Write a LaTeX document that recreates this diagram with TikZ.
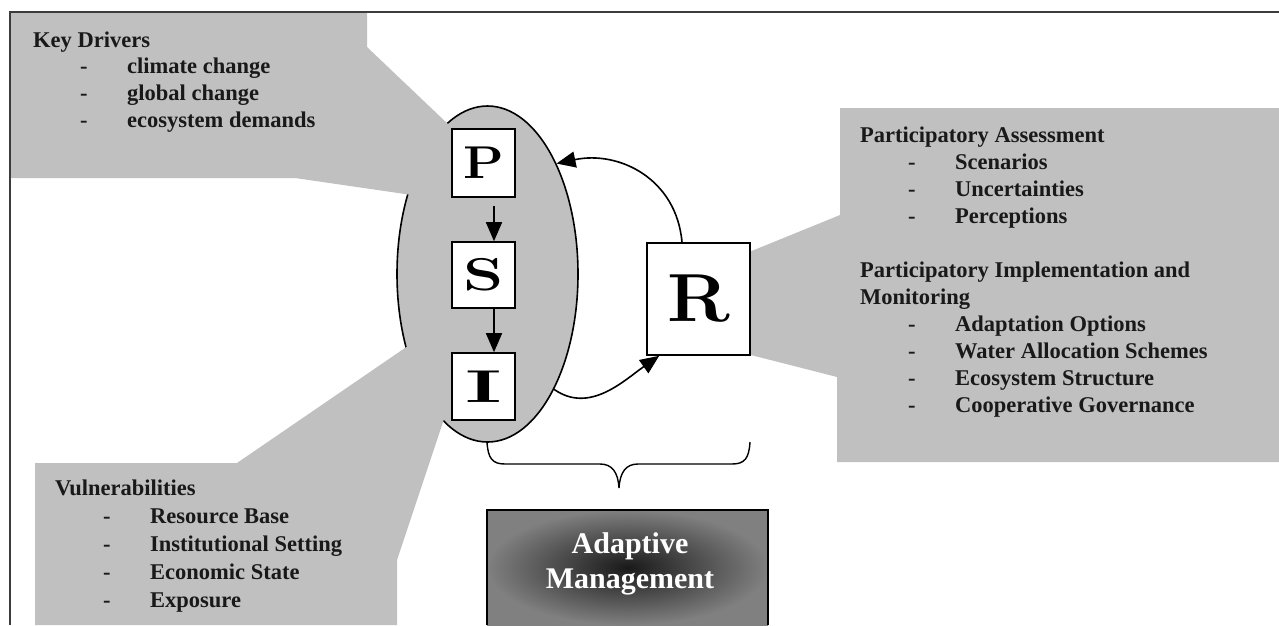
\documentclass[tikz,border=0pt]{standalone}
\usepackage{fontspec}
\newfontfamily\tnr{Liberation Serif}
\usetikzlibrary{shapes.geometric, arrows.meta, positioning}
\definecolor{callgray}{RGB}{192,192,192}
\definecolor{framegray}{RGB}{60,60,60}
\definecolor{amgray}{RGB}{128,128,128}
\definecolor{inkblack}{RGB}{25,25,25}
\newcommand{\itm}[1]{\makebox[47pt][l]{-}#1}
\newcommand{\wide}[2]{\scalebox{#1}[1]{#2}}

\begin{document}
\begin{tikzpicture}[x=1pt, y=1pt, >={Triangle[length=19pt,width=16pt]},
  callout/.style={fill=callgray, draw=none},
  letterbox/.style={draw, fill=white, line width=1.6pt, inner sep=0pt, font=\fontsize{46}{46}\selectfont\bfseries},
  flow/.style={line width=1.6pt, ->},
  calltext/.style={anchor=base west, inner sep=0pt, text=inkblack}]
  \useasboundingbox (0,0) rectangle (1279,-625);

  % PSI ellipse
  \node[ellipse, draw, fill=callgray, line width=1.6pt, minimum width=181pt, minimum height=336pt, inner sep=0pt] (psi) at (487.5,-274) {};

  % grey callouts
  \fill[callout] (10,-12) -- (367,-12) -- (367,-47) -- (470,-145) -- (460,-202) -- (295,-178) -- (10,-178) -- cycle;
  \fill[callout] (840,-108) -- (1279,-108) -- (1279,-462) -- (837,-462) -- (837,-377) -- (700,-342) -- (700,-272) -- (840,-215) -- cycle;
  \fill[callout] (35,-625) -- (35,-463) -- (237,-463) -- (440,-324) -- (450,-401) -- (397,-560) -- (397,-625) -- cycle;

  % P, S, I and R
  \node[letterbox, minimum width=63pt, minimum height=68pt] (P) at (483.5,-163) {\wide{1.15}{P}};
  \node[letterbox, minimum width=63pt, minimum height=66pt] (S) at (483.5,-275) {\wide{1.4}{S}};
  \node[letterbox, minimum width=63pt, minimum height=67pt] (I) at (483.5,-386.5) {\wide{1.9}{I}};
  \node[letterbox, minimum width=103pt, minimum height=112pt, font=\fontsize{68}{68}\selectfont\bfseries] (R) at (698.5,-299) {\wide{1.1}{R}};

  % arrows
  \draw[flow, shorten <=8pt] ([xshift=10.5pt]P.south) -- ([xshift=10.5pt]S.north);
  \draw[flow] ([xshift=10.5pt]S.south) -- ([xshift=10.5pt]I.north);
  \draw[flow] ([xshift=-16.5pt]R.north) to[out=95, in=12, looseness=1.1] (psi.58);
  \draw[flow] (psi.-60) to[out=-35, in=215] ([xshift=13pt]R.south west);

  % brace
  \draw[line width=1.4pt] (487,-442) .. controls (488,-458) and (492,-464) .. (505,-464) -- (600,-464)
    .. controls (612,-464) and (618,-472) .. (619,-488) .. controls (620,-472) and (626,-464) .. (638,-464)
    -- (732,-464) .. controls (745,-464) and (749,-458) .. (750,-442);

  % adaptive management box
  \shade[inner color=black!90, outer color=amgray] (487,-625) rectangle (768,-510);
  \draw[line width=1.8pt] (487,-625) -- (487,-510) -- (768,-510) -- (768,-625);
  \node[text=white, align=center, font=\tnr\bfseries\fontsize{30}{35}\selectfont] (amlabel) at (630,-564) {Adaptive\\Management};

  % callout texts
  \node[calltext, font=\tnr\bfseries\fontsize{22.5}{26.7}\selectfont] (drivers) at (33,-47)
    {\begin{tabular}[t]{@{\hspace{47pt}}l@{}}
      \multicolumn{1}{@{}l@{}}{Key Drivers}\\
      \itm{climate change}\\
      \itm{global change}\\
      \itm{ecosystem demands}
    \end{tabular}};
  \node[calltext, font=\tnr\bfseries\fontsize{22.5}{27}\selectfont] (assess) at (860,-142)
    {\begin{tabular}[t]{@{\hspace{48pt}}l@{}}
      \multicolumn{1}{@{}l@{}}{Participatory Assessment}\\
      \itm{Scenarios}\\
      \itm{Uncertainties}\\
      \itm{Perceptions}\\
      \\
      \multicolumn{1}{@{}l@{}}{Participatory Implementation and}\\
      \multicolumn{1}{@{}l@{}}{Monitoring}\\
      \itm{Adaptation Options}\\
      \itm{Water Allocation Schemes}\\
      \itm{Ecosystem Structure}\\
      \itm{Cooperative Governance}
    \end{tabular}};
  \node[calltext, font=\tnr\bfseries\fontsize{22.5}{28}\selectfont] (vulner) at (55,-495)
    {\begin{tabular}[t]{@{\hspace{48pt}}l@{}}
      \multicolumn{1}{@{}l@{}}{Vulnerabilities}\\
      \itm{Resource Base}\\
      \itm{Institutional Setting}\\
      \itm{Economic State}\\
      \itm{Exposure}
    \end{tabular}};

  % frame
  \draw[framegray, line width=1.4pt] (1279,-12) -- (10,-12) -- (10,-625);
\end{tikzpicture}
\end{document}
